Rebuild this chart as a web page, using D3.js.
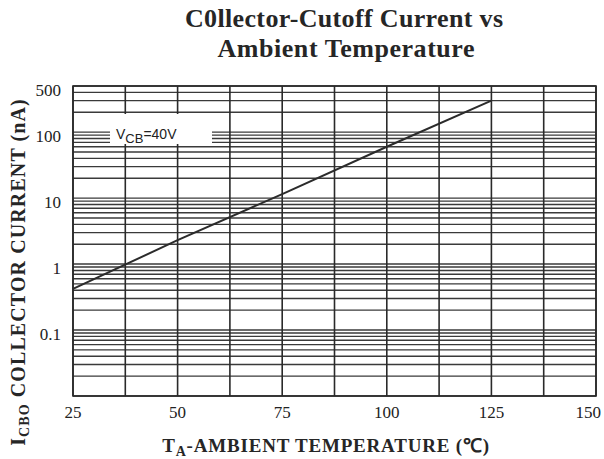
<!DOCTYPE html>
<html>
<head>
<meta charset="utf-8">
<script src="https://cdn.jsdelivr.net/npm/d3@7"></script>
<style>
  body { margin: 0; background: #fff; }
  svg { display: block; }
</style>
</head>
<body>
<svg id="chart" width="604" height="459"></svg>
<script>
// ---- data ----
const temps = [25, 50, 75, 100, 125];            // °C
const currents = [0.42, 2.3, 11.5, 60, 300];      // nA
const xTickValues = [25, 50, 75, 100, 125, 150];
const xGridValues = [25, 37.5, 50, 62.5, 75, 87.5, 100, 112.5, 125, 137.5, 150];
const yTickValues = [0.1, 1, 10, 100, 500];
const yTickLabels = ["0.1", "1", "10", "100", "500"];
const yDomain = [0.01, 500];
const xDomain = [25, 150];

const svg = d3.select("#chart");
const m = { left: 73, right: 596, top: 86, bottom: 396 };

const x = d3.scaleLinear().domain(xDomain).range([m.left, m.right]);
const y = d3.scaleLog().domain(yDomain).range([m.bottom, m.top]);

const gridColor = "#3a3a3a";
const serif = "'Liberation Serif', 'Times New Roman', serif";

// horizontal log grid
const hVals = y.ticks().filter(v => v >= yDomain[0] && v <= yDomain[1]);
if (!hVals.includes(500)) hVals.push(500);
svg.append("g").selectAll("line").data(hVals).join("line")
  .attr("x1", m.left).attr("x2", m.right)
  .attr("y1", d => y(d)).attr("y2", d => y(d))
  .attr("stroke", gridColor).attr("stroke-width", 1.4);

// vertical grid
svg.append("g").selectAll("line").data(xGridValues).join("line")
  .attr("x1", d => x(d)).attr("x2", d => x(d))
  .attr("y1", m.top).attr("y2", m.bottom)
  .attr("stroke", "#2a2a2a").attr("stroke-width", 1.6);

// frame
svg.append("rect")
  .attr("x", m.left).attr("y", m.top)
  .attr("width", m.right - m.left).attr("height", m.bottom - m.top)
  .attr("fill", "none").attr("stroke", "#2a2a2a").attr("stroke-width", 1.6);

// label box
svg.append("rect")
  .attr("x", 110).attr("y", 114).attr("width", 102).attr("height", 30)
  .attr("fill", "#fff");
const lbl = svg.append("text")
  .attr("x", 116).attr("y", 139)
  .attr("font-family", "'Liberation Sans', Arial, sans-serif")
  .attr("font-size", 14).attr("fill", "#222");
lbl.append("tspan").text("V");
lbl.append("tspan").attr("dy", 4).attr("font-size", 13).text("CB");
lbl.append("tspan").attr("dy", -4).text("=40V");

// curve
const line = d3.line().x((d, i) => x(temps[i])).y(d => y(d));
svg.append("path").datum(currents)
  .attr("d", line)
  .attr("fill", "none").attr("stroke", "#2b2b2b").attr("stroke-width", 2);

// y tick labels
svg.append("g").selectAll("text").data(yTickValues).join("text")
  .attr("x", 61).attr("y", d => y(d) + 4)
  .attr("text-anchor", "end").attr("dominant-baseline", "central")
  .attr("font-family", serif).attr("font-size", 17).attr("fill", "#222")
  .text((d, i) => yTickLabels[i]);

// x tick labels
svg.append("g").selectAll("text").data(xTickValues).join("text")
  .attr("x", (d, i) => i === xTickValues.length - 1 ? 601 : x(d))
  .attr("y", 418)
  .attr("text-anchor", (d, i) => i === xTickValues.length - 1 ? "end" : "middle")
  .attr("font-family", serif).attr("font-size", 17).attr("fill", "#222")
  .text(d => d);

// title
svg.append("text").attr("x", 344).attr("y", 27).attr("text-anchor", "middle")
  .attr("font-family", serif).attr("font-weight", "bold").attr("font-size", 26)
  .attr("textLength", 318).attr("lengthAdjust", "spacing")
  .attr("fill", "#262626").text("C0llector-Cutoff Current vs");
svg.append("text").attr("x", 346).attr("y", 57).attr("text-anchor", "middle")
  .attr("font-family", serif).attr("font-weight", "bold").attr("font-size", 26)
  .attr("textLength", 257).attr("lengthAdjust", "spacing")
  .attr("fill", "#262626").text("Ambient Temperature");

// x axis title
const xt = svg.append("text").attr("x", 326).attr("y", 452).attr("text-anchor", "middle")
  .attr("font-family", serif).attr("font-weight", "bold").attr("font-size", 19)
  .attr("letter-spacing", 0.8)
  .attr("fill", "#262626");
xt.append("tspan").text("T");
xt.append("tspan").attr("dy", 4).attr("font-size", 14).text("A");
xt.append("tspan").attr("dy", -4).text("-AMBIENT TEMPERATURE (\u2103)");

// y axis title
const yt = svg.append("text")
  .attr("transform", "translate(25,272) rotate(-90)")
  .attr("text-anchor", "middle")
  .attr("font-family", serif).attr("font-weight", "bold").attr("font-size", 20)
  .attr("letter-spacing", 1.1)
  .attr("fill", "#262626");
yt.append("tspan").text("I");
yt.append("tspan").attr("dy", 4).attr("font-size", 14).text("CBO");
yt.append("tspan").attr("dy", -4).text(" COLLECTOR CURRENT (nA)");
</script>
</body>
</html>
